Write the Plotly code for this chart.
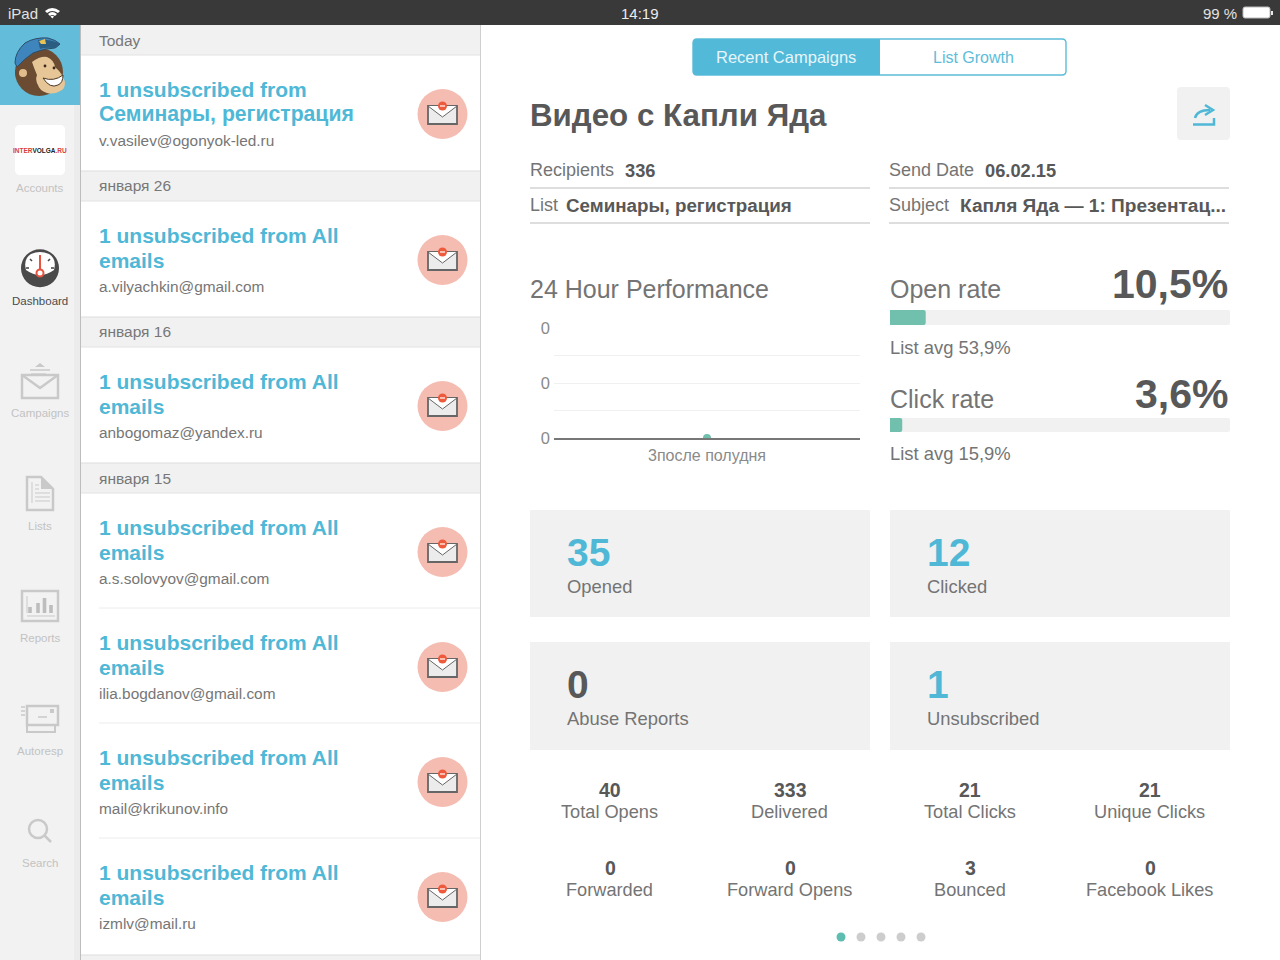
import plotly.graph_objects as go

# left feed
feed_days = ['Today', 'января 26', 'января 16', 'января 15', None, None, None]
feed_title1 = ['1 unsubscribed from'] + ['1 unsubscribed from All'] * 6
feed_title2 = ['Семинары, регистрация'] + ['emails'] * 6
feed_mail = ['v.vasilev@ogonyok-led.ru', 'a.vilyachkin@gmail.com', 'anbogomaz@yandex.ru',
             'a.s.solovyov@gmail.com', 'ilia.bogdanov@gmail.com', 'mail@krikunov.info', 'izmlv@mail.ru']
nav_labels = ['Accounts', 'Dashboard', 'Campaigns', 'Lists', 'Reports', 'Autoresp', 'Search']

# chart data
perf_hours = ['3после полудня']
perf_values = [0]
perf_ticks = [0, 0.25, 0.5, 0.75, 1]
perf_ticktext = ['0', '', '0', '', '0']
open_rate = [10.5]
click_rate = [3.6]

tiles = [('35', 'Opened'), ('12', 'Clicked'), ('0', 'Abuse Reports'), ('1', 'Unsubscribed')]
stat_values = ['40', '333', '21', '21', '0', '0', '3', '0']
stat_labels = ['Total Opens', 'Delivered', 'Total Clicks', 'Unique Clicks',
               'Forwarded', 'Forward Opens', 'Bounced', 'Facebook Likes']

BLUE = '#4fb8d6'
TEAL = '#71bfad'
DARK = '#585858'
MID = '#747474'
PANEL = '#f1f1f1'
FONT = 'Liberation Sans'

shapes = []
notes = []


def rect(x0, y0, x1, y1, fill, line=None, width=1):
  shapes.append(dict(type='rect', xref='x', yref='y', x0=x0, y0=y0, x1=x1, y1=y1, fillcolor=fill,
                     line=dict(color=line or fill, width=width if line else 0), layer='below'))


def path(d, fill=None, line=None, width=1):
  shapes.append(dict(type='path', xref='x', yref='y', path=d, fillcolor=fill or 'rgba(0,0,0,0)',
                     line=dict(color=line or 'rgba(0,0,0,0)', width=width if line else 0), layer='below'))


def round_rect(x0, y0, x1, y1, r, fill, line=None, width=1):
  d = (f'M{x0+r},{y0} L{x1-r},{y0} Q{x1},{y0} {x1},{y0+r} L{x1},{y1-r} Q{x1},{y1} {x1-r},{y1} '
       f'L{x0+r},{y1} Q{x0},{y1} {x0},{y1-r} L{x0},{y0+r} Q{x0},{y0} {x0+r},{y0} Z')
  path(d, fill, line, width)


def circle(cx, cy, r, fill, line=None, width=1):
  shapes.append(dict(type='circle', xref='x', yref='y', x0=cx-r, y0=cy-r, x1=cx+r, y1=cy+r, fillcolor=fill,
                     line=dict(color=line or fill, width=width if line else 0), layer='below'))


def seg(x0, y0, x1, y1, color, width=1):
  shapes.append(dict(type='line', xref='x', yref='y', x0=x0, y0=y0, x1=x1, y1=y1,
                     line=dict(color=color, width=width), layer='below'))


def txt(x, y, s, size, color=MID, bold=False, anchor='left'):
  notes.append(dict(x=x, y=y, xref='x', yref='y', text=f'<b>{s}</b>' if bold else s, showarrow=False,
                    xanchor=anchor, yanchor='middle', borderpad=0, borderwidth=0,
                    font=dict(family=FONT, size=size, color=color)))


# backgrounds
rect(0, 25, 80, 960, '#f2f2f2')
rect(74, 25, 80, 960, '#ececec')
rect(80, 25, 81, 960, '#bdbdbd')
rect(480, 25, 481, 960, '#cfcfcf')
rect(0, 0, 1280, 25, '#393939')
rect(0, 25, 80, 105, '#63bcd9')

# status bar
txt(8, 13, 'iPad', 15, '#e2e2e2')
path('M45,11 Q52,5 60,11 L58,13 Q52,9 47,13 Z', '#ffffff')
path('M48,14 Q52,10 57,14 L55,16 Q52,14 50,16 Z', '#ffffff')
path('M50.5,16.5 Q52,15 54,16.5 L52.3,18.5 Z', '#ffffff')
txt(640, 13, '14:19', 15, '#ececec', anchor='center')
txt(1237, 13, '99 %', 15, '#e2e2e2', anchor='right')
round_rect(1243, 7, 1270, 18, 2, '#ffffff', '#bbbbbb', 1)
rect(1271, 11, 1273, 15, '#e8e8e8')

# monkey
circle(39, 72, 24, '#6b4c33')
circle(23, 73, 8, '#6b4c33')
circle(23, 73, 4, '#e2bd8c')
path('M32,62 Q40,56 47,57 Q54,60 55,67 Q63,74 65,82 Q65,88 62,90 Q54,95 47,93 Q39,90 38,85 Q35,80 37,75 Q34,68 32,62 Z', '#e6c596')
path('M43,78 Q54,82 63,75 Q63,83 58,85 Q50,89 43,78 Z', '#ffffff', '#4c3626', 1)
circle(45, 66, 1.4, '#3b2a1c')
circle(54, 68, 1.4, '#3b2a1c')
path('M15,63 Q15,52 25,43 Q35,37 48,38 Q56,40 60,44 Q57,47 55,48 Q45,48 33,53 Q24,59 17,67 Z', '#3f85bd', '#2c4e68', 1)
path('M38,40 Q50,39 60,44 L55,48 Q44,47 40,49 Z', '#2a5d80')
path('M39,41 L45,39 L46,44 L41,44 Z', '#e7c455')

# nav items
round_rect(15, 125, 65, 175, 5, '#ffffff')
txt(40, 150, '<span style="color:#d6403c">INTER</span>VOLGA<span style="color:#d6403c">.RU</span>', 6.5, '#222222', True, 'center')
nav_y = [188, 301, 413, 526, 638, 751, 863]
for label, y in zip(nav_labels, nav_y):
  active = label == 'Dashboard'
  txt(40, y, label, 11.5, '#4b4b4b' if active else '#c2c2c2', anchor='center')

# gauge
circle(40, 268.3, 19, '#4a4a4a')
path('M26,270 Q23,259 31,254 Q40,250 49,254 Q57,259 54,270 Q40,280 26,270 Z', '#ffffff')
seg(40, 255, 40, 270, '#e8533f', 2)
circle(40, 273, 3.5, '#ffffff', '#e8533f', 2)
seg(30, 259, 32, 261, '#4a4a4a', 1.6)
seg(50, 259, 48, 261, '#4a4a4a', 1.6)
seg(26, 268, 29, 268, '#4a4a4a', 1.6)
seg(51, 268, 54, 268, '#4a4a4a', 1.6)

ICON = '#c9c9c9'
# campaigns
path('M22,375 L58,375 L58,398 L22,398 Z', None, ICON, 2.5)
path('M22,375 L40,388 L58,375', None, ICON, 2.5)
path('M35,367 L40,363 L45,367 Z', ICON)
seg(30, 370, 50, 370, ICON, 1.5)
seg(31, 374, 46, 374, ICON, 1.2)
# lists
path('M27,477 L41,477 L53,489 L53,510 L27,510 Z', None, ICON, 2.5)
path('M41,477 L53,489 L41,489 Z', ICON)
seg(32, 482, 32, 503, ICON, 1)
for y in (485, 489, 493, 497, 501):
  seg(35, y, 50 if y > 489 else 39, y, ICON, 1)
# reports
path('M22,591 L58,591 L58,621 L22,621 Z', None, ICON, 2.5)
for a, top in zip((30, 38, 44.5, 51), (607, 603, 598, 605)):
  rect(a-1.8, top, a+1.8, 613, '#bdbdbd')
seg(27, 616, 55, 616, ICON, 1)
seg(27, 596, 27, 613, ICON, 1)
# autoresp
path('M27,706 L58,706 L58,725 L27,725 Z', None, ICON, 2.5)
path('M27,725 L27,732 L55,732 L55,725', None, ICON, 2)
for y in (707, 711, 715):
  seg(21, y, 25, y, ICON, 1.5)
seg(38, 717, 47, 717, ICON, 1.5)
rect(50, 709, 54, 713, ICON)
# search
circle(38, 829, 9, 'rgba(0,0,0,0)', ICON, 2.5)
seg(44.5, 835.5, 51, 842, ICON, 2.5)

# feed
y_top = 56
for i in range(7):
  mid = y_top + 58
  if feed_days[i] is not None:
    rect(81, y_top - 31, 480, y_top - 1, PANEL)
    seg(81, y_top - 1, 480, y_top - 1, '#e2e2e2', 1)
    if i > 0:
      seg(81, y_top - 31, 480, y_top - 31, '#dddddd', 1)
    txt(99, y_top - 16 - (1 if i in (1, 2) else 0), feed_days[i], 15.5, '#777777')
  else:
    seg(99, y_top - 1, 480, y_top - 1, '#ececec', 1)
  txt(99, mid - 25, feed_title1[i], 21, BLUE, True)
  txt(99, mid, feed_title2[i], 21.2 if i == 0 else 21, BLUE, True)
  txt(99, mid + 26, feed_mail[i], 15.4, '#767676')
  circle(442.5, mid, 25, '#f5bdb2')
  path(f'M428,{mid-8} L457,{mid-8} L457,{mid+10} L428,{mid+10} Z', '#ececec', '#666666', 1.8)
  path(f'M428,{mid-8} L442.5,{mid+3} L457,{mid-8}', '#ffffff', '#666666', 1)
  circle(442.5, mid - 8, 4.5, '#ee5a3c')
  seg(440, mid - 8, 445, mid - 8, '#ffffff', 1.2)
  y_top += 146 if i < 3 else 115
rect(81, 955, 480, 960, PANEL)
seg(81, 955, 480, 955, '#dddddd', 1)

# header controls
round_rect(693, 39, 1066, 75, 4, '#ffffff', '#5bbcd9', 1.4)
path('M880,39 L697,39 Q693,39 693,43 L693,71 Q693,75 697,75 L880,75 Z', '#52b9d8')
txt(786, 57, 'Recent Campaigns', 16.5, '#e6f5fa', anchor='center')
txt(973, 57, 'List Growth', 16, '#5dbdd9', anchor='center')
txt(530, 115, 'Видео с Капли Яда', 31.3, DARK, True)
round_rect(1177, 87, 1230, 140, 4, PANEL)
path('M1193,124.5 L1214,124.5 L1214,118', None, BLUE, 2.5)
path('M1195,118 Q1197,110 1210,110', None, BLUE, 2.5)
path('M1205,105 L1213,110 L1205,115', None, BLUE, 2.5)

# campaign info
txt(530, 170, 'Recipients', 18)
txt(625, 170, '336', 18.3, DARK, True)
txt(530, 205, 'List', 18)
txt(566, 205, 'Семинары, регистрация', 18.8, DARK, True)
txt(889, 170, 'Send Date', 18)
txt(985, 170, '06.02.15', 18.3, DARK, True)
txt(889, 205, 'Subject', 18)
txt(960, 205, 'Капля Яда — 1: Презентац...', 19.1, DARK, True)
for y in (188, 223):
  seg(530, y, 870, y, '#bcbcbc', 1)
  seg(889, y, 1229, y, '#bcbcbc', 1)

# rates
txt(530, 289, '24 Hour Performance', 25)
txt(890, 289, 'Open rate', 25)
txt(1228, 284, '10,5%', 41, DARK, True, 'right')
round_rect(890, 310, 1230, 325, 2, PANEL)
txt(890, 347, 'List avg 53,9%', 18.4)
txt(890, 399, 'Click rate', 25)
txt(1228, 394, '3,6%', 41, DARK, True, 'right')
round_rect(890, 418, 1230, 432, 2, PANEL)
txt(890, 453, 'List avg 15,9%', 18.4)

# tiles
tile_pos = [(530, 510, 617), (890, 510, 617), (530, 642, 750), (890, 642, 750)]
for (num, label), (x, y0, y1) in zip(tiles, tile_pos):
  rect(x, y0, x + 340, y1, PANEL)
  txt(x + 37, y0 + 42, num, 39, DARK if label == 'Abuse Reports' else BLUE, True)
  txt(x + 37, y0 + 76, label, 18.4)

# bottom stats
stat_x = [610, 790, 970, 1150]
for i, (v, label) in enumerate(zip(stat_values, stat_labels)):
  x = stat_x[i % 4]
  y = 790 if i < 4 else 868
  txt(x, y, v, 19.5, DARK, True, 'center')
  txt(x - 0.5, y + 22, label, 18.2, anchor='center')

for i, x in enumerate((841, 861, 881, 901, 921)):
  circle(x, 937, 4.5, '#5dbdb0' if i == 0 else '#cdcdcd')

fig = go.Figure()
fig.add_trace(go.Scatter(x=[0], y=[0], mode='markers', marker=dict(size=1, opacity=0), xaxis='x', yaxis='y', hoverinfo='skip'))
fig.add_trace(go.Scatter(
  x=perf_hours, y=perf_values, mode='markers', xaxis='x2', yaxis='y2',
  marker=dict(color=TEAL, size=8),
))
fig.add_trace(go.Bar(x=open_rate, y=['Open rate'], orientation='h', xaxis='x3', yaxis='y3',
                     width=1, marker=dict(color=TEAL, line=dict(width=0))))
fig.add_trace(go.Bar(x=click_rate, y=['Click rate'], orientation='h', xaxis='x4', yaxis='y4',
                     width=1, marker=dict(color=TEAL, line=dict(width=0))))


def dom_x(a, b):
  return [a / 1280, b / 1280]


def dom_y(top, bottom):
  return [1 - bottom / 960, 1 - top / 960]


hidden = dict(visible=False, fixedrange=True)
fig.update_layout(
  width=1280, height=960,
  margin=dict(l=0, r=0, t=0, b=0, autoexpand=False),
  paper_bgcolor='#ffffff', plot_bgcolor='rgba(0,0,0,0)',
  showlegend=False, barcornerradius=2,
  font=dict(family=FONT),
  shapes=shapes, annotations=notes,
  xaxis=dict(range=[0, 1280], domain=[0, 1], **hidden),
  yaxis=dict(range=[960, 0], domain=[0, 1], **hidden),
  xaxis2=dict(domain=dom_x(554, 860), anchor='y2', type='category', range=[-0.5, 0.5],
              showgrid=False, showline=True, linecolor='#777777', linewidth=1.5, ticks='',
              ticklabelstandoff=2, tickfont=dict(family=FONT, size=16, color='#8a8a8a'), fixedrange=True),
  yaxis2=dict(domain=dom_y(328, 438), anchor='x2', range=[0, 1], tickvals=perf_ticks, ticktext=perf_ticktext,
              gridcolor='#f0f0f0', gridwidth=1, zeroline=False, showline=False, ticks='',
              ticklabelstandoff=3, tickfont=dict(family=FONT, size=16.5, color='#8a8a8a'), fixedrange=True),
  xaxis3=dict(domain=dom_x(890, 1230), anchor='y3', range=[0, 100], **hidden),
  yaxis3=dict(domain=dom_y(310, 325), anchor='x3', **hidden),
  xaxis4=dict(domain=dom_x(890, 1230), anchor='y4', range=[0, 100], **hidden),
  yaxis4=dict(domain=dom_y(418, 432), anchor='x4', **hidden),
)

fig.write_html("out.html", config=dict(displayModeBar=False), post_script="document.body.style.margin='0';")
